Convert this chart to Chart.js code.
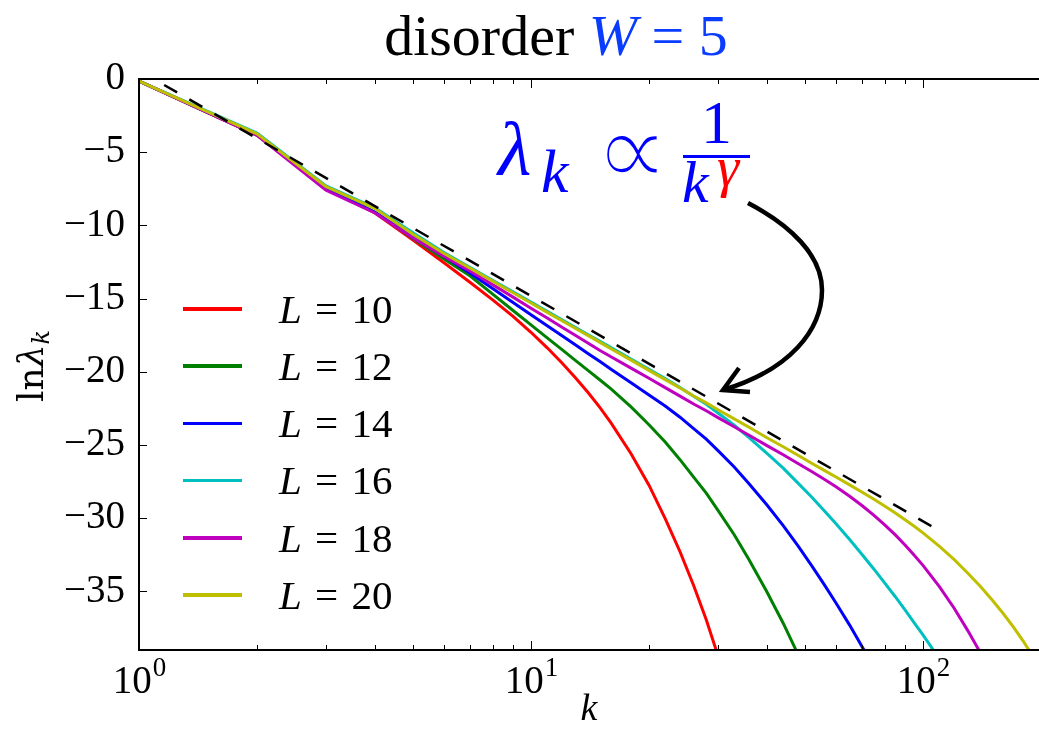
<!DOCTYPE html>
<html><head><meta charset="utf-8">
<script src="https://cdn.jsdelivr.net/npm/chart.js@4.4.1/dist/chart.umd.min.js"></script>
<style>
html,body{margin:0;padding:0;background:#fff;overflow:hidden;}
#wrap{position:relative;width:1039px;height:734px;overflow:hidden;}
canvas{position:absolute;left:0;top:0;}
.ov{position:absolute;white-space:nowrap;font-family:"Liberation Serif","DejaVu Serif",serif;line-height:1;color:#000;}
.lg{position:absolute;left:183px;width:59px;height:3.5px;}
</style></head><body>
<div id="wrap">
<canvas id="c" width="1039" height="734"></canvas>
<div class="ov" style="left:0;width:1112px;top:7px;text-align:center;font-size:58px">disorder <span style="color:#0a3cff"><i>W</i> = 5</span></div>
<div class="ov" id="ylab" style="left:33px;top:366px;font-size:36px;transform:translate(-50%,-50%) rotate(-90deg);font-family:'DejaVu Serif',serif">ln<i>λ</i><sub style="font-size:24px;vertical-align:-6px"><i>k</i></sub></div>
<div id="legend"></div>
<div class="ov" style="left:498px;top:111px;font-size:77px;color:#0000ff"><i>λ</i></div>
<div class="ov" style="left:541px;top:140px;font-size:62px;color:#0000ff"><i>k</i></div>
<div class="ov" style="left:594px;top:97px;font-size:106px;color:#0000ff;font-family:'DejaVu Sans',sans-serif;-webkit-text-stroke:3.5px #fff;paint-order:normal">∝</div>
<div class="ov" style="left:701px;top:91px;font-size:62px;color:#0000ff">1</div>
<div style="position:absolute;left:683px;top:155px;width:67px;height:3px;background:#0000ff"></div>
<div class="ov" style="left:682px;top:152px;font-size:60px;color:#0000ff"><i>k</i></div>
<div class="ov" style="left:717px;top:139px;font-size:56px;color:#ff0000"><i>γ</i></div>
<svg style="position:absolute;left:0;top:0" width="1039" height="734">
<path d="M748,203 C790,225 822,255 822,290 C822,330 790,370 723,390" fill="none" stroke="#000" stroke-width="4.5"/>
<path d="M750,392 L723,390 L739,368" fill="none" stroke="#000" stroke-width="4.5" stroke-linejoin="miter"/>
</svg>
</div>
<script>
// data (k index, ln lambda_k)
const kValues = [1,2,3,4,5,6,7,8,9,10,11,12,13,14,15,16,18,20,22,24,26,28,30,33,36,40,44,48,52,56,60,65,70,75,80,85,90,95,100,110,120,130,140,150,160,170,180,190];
const seriesLabels = ['L = 10','L = 12','L = 14','L = 16','L = 18','L = 20'];
const lnL10 = [-0.14,-3.83,-7.45,-9.15,-11.0,-12.55,-13.9,-15.1,-16.21,-17.3,-18.36,-19.4,-20.42,-21.43,-22.45,-23.49,-25.59,-27.74,-30.02,-32.29,-34.59,-36.94,-39.39];
const lnL12 = [-0.14,-3.83,-7.45,-9.1,-10.9,-12.3,-13.46,-14.71,-15.81,-16.79,-17.68,-18.48,-19.23,-19.92,-20.56,-21.17,-22.4,-23.61,-24.8,-26.0,-27.19,-28.29,-29.46,-31.13,-32.84,-35.04,-37.17,-39.3];
const lnL14 = [-0.14,-3.8,-7.4,-9.1,-10.75,-12.1,-13.26,-14.33,-15.26,-16.1,-16.85,-17.54,-18.17,-18.76,-19.3,-19.82,-20.75,-21.58,-22.34,-23.1,-23.88,-24.6,-25.38,-26.5,-27.64,-29.1,-30.5,-31.89,-33.24,-34.54,-35.79,-37.3,-38.79,-40.19];
const lnL16 = [-0.14,-3.7,-7.3,-8.8,-10.5,-11.85,-12.87,-13.76,-14.54,-15.24,-15.87,-16.44,-16.97,-17.47,-17.92,-18.35,-19.13,-19.83,-20.46,-21.07,-21.67,-22.22,-22.81,-23.65,-24.49,-25.57,-26.58,-27.6,-28.55,-29.49,-30.37,-31.45,-32.49,-33.48,-34.45,-35.36,-36.26,-37.14,-37.97,-39.59];
const lnL18 = [-0.14,-3.85,-7.6,-9.15,-10.85,-12.12,-13.13,-14.06,-14.9,-15.66,-16.33,-16.95,-17.52,-18.05,-18.54,-18.97,-19.75,-20.44,-21.08,-21.66,-22.2,-22.66,-23.13,-23.75,-24.33,-25.04,-25.66,-26.26,-26.81,-27.34,-27.85,-28.5,-29.15,-29.8,-30.47,-31.14,-31.83,-32.53,-33.22,-34.66,-36.13,-37.66,-39.17];
const lnL20 = [-0.14,-3.75,-7.35,-8.85,-10.6,-11.92,-12.93,-13.82,-14.6,-15.3,-15.94,-16.51,-17.04,-17.53,-17.99,-18.42,-19.2,-19.9,-20.53,-21.11,-21.65,-22.12,-22.59,-23.21,-23.79,-24.5,-25.12,-25.7,-26.24,-26.73,-27.18,-27.72,-28.22,-28.71,-29.18,-29.64,-30.1,-30.55,-31.0,-31.91,-32.81,-33.74,-34.64,-35.57,-36.49,-37.42,-38.37,-39.36];
const fitK = [1, 105.4];
const fitLn = [0.58, -30.56];
const seriesColors = ['#ff0000','#008000','#0000ff','#00bfbf','#bf00bf','#bfbf00'];
const xTickBase = '10';
const xTickExponents = {1:'0',10:'1',100:'2'};
const yTickStep = 5;

const allSeries = [lnL10,lnL12,lnL14,lnL16,lnL18,lnL20];
const toPts = (ks, vs) => vs.map((v,i)=>({x:ks[i], y:v}));

const datasets = allSeries.map((vs,i)=>({
  label: seriesLabels[i], data: toPts(kValues, vs), borderColor: seriesColors[i],
  borderWidth: 3, pointRadius: 0, tension: 0, fill: false, order: 10 - i
}));
datasets.push({label:'fit', data: toPts(fitK, fitLn), borderColor:'#000', borderWidth:2.5,
  borderDash:[15,14], pointRadius:0, fill:false, order:0});

// HTML legend
const lg = document.getElementById('legend');
seriesLabels.forEach((s,i)=>{
  const cy = 309 + i*57.2;
  const ln = document.createElement('div'); ln.className='lg';
  ln.style.top = (cy-1.75)+'px'; ln.style.background = seriesColors[i]; lg.appendChild(ln);
  const t = document.createElement('div'); t.className='ov';
  t.style.left='279px'; t.style.top=(cy+14-34.3)+'px'; t.style.fontSize='41px'; t.style.wordSpacing='3px';
  t.innerHTML = '<i>L</i> = ' + s.split('= ')[1];
  lg.appendChild(t);
});

const framePlugin = {
  id:'frame',
  afterDraw(chart){
    const {ctx, chartArea:a, scales:{x,y}} = chart;
    const line=(x1,y1,x2,y2)=>{ctx.beginPath();ctx.moveTo(x1,y1);ctx.lineTo(x2,y2);ctx.stroke();};
    ctx.save();
    ctx.strokeStyle='#000'; ctx.lineWidth=1;
    x.ticks.forEach(t=>{
      const v=t.value; const e=Math.floor(Math.log10(v)+1e-9); const m=v/Math.pow(10,e);
      if (Math.abs(m-Math.round(m))>1e-6) return;
      const px=Math.round(x.getPixelForValue(v))+0.5;
      if (px<a.left-1||px>a.right) return;
      const len = Math.round(m)===1 ? 9 : 5;
      line(px,a.bottom,px,a.bottom-len); line(px,a.top,px,a.top+len);
      if (xTickExponents[v] !== undefined) {
        ctx.fillStyle='#000'; ctx.textBaseline='alphabetic'; ctx.textAlign='left';
        ctx.font='39px "Liberation Serif"'; const w1=ctx.measureText(xTickBase).width;
        ctx.font='27px "Liberation Serif"'; const w2=ctx.measureText(xTickExponents[v]).width;
        const x0 = x.getPixelForValue(v) - (w1+w2)/2;
        ctx.font='39px "Liberation Serif"'; ctx.fillText(xTickBase, x0, a.bottom+43);
        ctx.font='27px "Liberation Serif"'; ctx.fillText(xTickExponents[v], x0+w1+1, a.bottom+26);
      }
    });
    y.ticks.forEach(t=>{const py=Math.round(y.getPixelForValue(t.value))+0.5; line(a.left,py,a.left+8,py);});
    ctx.lineWidth=2;
    line(a.left,a.top,a.left,a.bottom);
    line(a.left-1,a.top,a.right,a.top);
    line(a.left-1,a.bottom,a.right,a.bottom);
    ctx.restore();
  }
};

new Chart(document.getElementById('c'), {
  type:'line',
  data:{datasets},
  plugins:[framePlugin],
  options:{
    responsive:false, animation:false, devicePixelRatio:1,
    layout:{padding:{top:79,left:0,right:0,bottom:0}},
    plugins:{legend:{display:false}, tooltip:{enabled:false}},
    scales:{
      x:{type:'logarithmic', min:1, max:197.7, position:'bottom',
        grid:{display:false, drawTicks:false}, border:{display:false},
        ticks:{display:false, autoSkip:false, maxRotation:0},
        title:{display:true, text:'k', color:'#000', font:{family:'Liberation Serif', size:38, style:'italic'}, padding:{top:0,bottom:1}},
        afterFit:(s)=>{s.height=84;}
      },
      y:{type:'linear', min:-39, max:0,
        grid:{display:false, drawTicks:false}, border:{display:false},
        ticks:{stepSize:yTickStep, includeBounds:false, padding:14, color:'#000',
          font:{family:'Liberation Serif', size:39},
          callback:(v)=> v===0 ? '0' : '\u2212'+Math.abs(v)},
        afterFit:(s)=>{s.width=139;}
      }
    }
  }
});
</script>
</body></html>
